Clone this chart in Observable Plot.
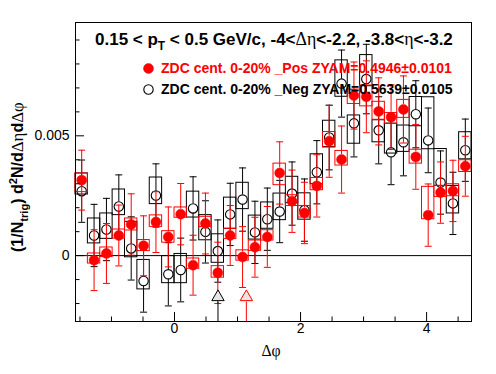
<!DOCTYPE html>
<html><head><meta charset="utf-8">
<script src="https://cdn.jsdelivr.net/npm/d3@7"></script>
<script src="https://cdn.jsdelivr.net/npm/@observablehq/plot@0.6"></script>
<style>html,body{margin:0;padding:0;background:#fff}#chart svg{display:block}</style>
</head><body><div id="chart"></div>
<script>
// ---- data ----
const nBins = 32;               // Δφ bins over [-π/2, 3π/2]
const binWidth = 2 * Math.PI / nBins;
const dphi = d3.range(nBins).map(i => -Math.PI / 2 + (i + 0.5) * binWidth);

// ZDC cent. 0-20% _Pos (red, filled)
const posValues = [0.00315,-0.00019,0.00009,0.00084,0.00130,0.00041,0.00140,0.00078,
  0.00173,-0.00040,0.00134,-0.00072,0.00084,-0.00006,0.00035,0.00078,
  0.00345,0.00227,0.00178,0.00291,0.00477,0.00401,0.00668,0.00663,
  0.00602,0.00578,0.00610,0.00412,0.00169,0.00263,0.00270,0.00373];
const posStat = [0.00125,0.00127,0.00125,0.00127,0.00128,0.00125,0.00127,0.00125,
  0.00128,0.00125,0.00127,0.00128,0.00125,0.00127,0.00125,0.00127,
  0.00130,0.00130,0.00128,0.00130,0.00150,0.00140,0.00140,0.00150,
  0.00140,0.00135,0.00140,0.00135,0.00130,0.00128,0.00128,0.00125];
const posSysLo = [0.00050,0.00014,0.00015,0.00013,0.00025,0.00022,0.00020,0.00024,
  0.00015,0.00015,0.00015,0.00020,0.00015,0.00015,0.00015,0.00015,
  0.00051,0.00020,0.00019,0.00018,0.00026,0.00025,0.00035,0.00040,
  0.00035,0.00028,0.00035,0.00028,0.00017,0.00018,0.00022,0.00024];
const posSysHi = [0.00028,0.00028,0.00025,0.00025,0.00025,0.00024,0.00028,0.00024,
  0.00028,0.00028,0.00028,0.00028,0.00028,0.00028,0.00028,0.00028,
  0.00039,0.00025,0.00029,0.00033,0.00039,0.00036,0.00025,0.00047,
  0.00040,0.00017,0.00040,0.00030,0.00118,0.00028,0.00028,0.00025];

// ZDC cent. 0-20% _Neg (black, open)
const negValues = [0.00269,0.00084,0.00109,0.00205,0.00030,-0.00106,0.00251,-0.00078,
  -0.00060,0.00197,0.00099,0.00019,0.00172,0.00234,0.00097,0.00152,
  0.00184,0.00259,0.00190,0.00348,0.00493,0.00718,0.00552,0.00737,
  0.00523,0.00431,0.00473,0.00590,0.00481,0.00305,0.00218,0.00440];
const negStat = [0.00130,0.00130,0.00130,0.00132,0.00132,0.00130,0.00132,0.00132,
  0.00133,0.00132,0.00130,0.00130,0.00130,0.00132,0.00130,0.00130,
  0.00130,0.00132,0.00130,0.00132,0.00135,0.00140,0.00140,0.00145,
  0.00140,0.00135,0.00140,0.00140,0.00135,0.00132,0.00130,0.00130];
const negSysLo = [0.00014,0.00033,0.00039,0.00036,0.00037,0.00035,0.00036,0.00037,
  0.00055,0.00038,0.00035,0.00049,0.00060,0.00040,0.00030,0.00040,
  0.00036,0.00040,0.00040,0.00050,0.00040,0.00055,0.00085,0.00030,
  0.00050,0.00005,0.00040,0.00050,0.00037,0.00014,0.00042,0.00038];
const negSysHi = [0.00074,0.00071,0.00067,0.00071,0.00111,0.00088,0.00075,0.00076,
  0.00067,0.00070,0.00070,0.00070,0.00070,0.00070,0.00070,0.00070,
  0.00075,0.00070,0.00070,0.00075,0.00070,0.00097,0.00033,0.00100,
  0.00042,0.00120,0.00070,0.00072,0.00180,0.00140,0.00073,0.00075];

// ZYAM markers (triangles)
const zyamX = [0.69, 1.14];
const zyamY = [-0.00173, -0.00173];
const zyamColor = ["black", "red"];

const xTicksMajor = [0, 2, 4];
const xTicksMinor = [-1.5, -1, -0.5, 0.5, 1, 1.5, 2.5, 3, 3.5, 4.5];
const yTicksMajor = [0, 0.005];
const yTicksMinor = [-0.002, -0.001, 0.001, 0.002, 0.003, 0.004, 0.006, 0.007, 0.008, 0.009];
const yTickLabels = {0: "0", 0.005: "0.005"};

// rich-text pieces: [text, kind]  kind: "" normal, "sub", "sup", "g" (greek, symbol-like font)
const titleParts = [["0.15 < p", ""], ["T", "sub"], [" < 0.5 GeV/c, -4<", ""], ["Δη", "g"], ["<-2.2, -3.8<", ""], ["η", "g"], ["<-3.2", ""]];
const legendLabels = ["ZDC cent. 0-20% _Pos ZYAM=0.4946±0.0101", "ZDC cent. 0-20% _Neg ZYAM=0.5639±0.0105"];
const yTitleParts = [["(1/N", ""], ["trig", "sub"], [") d", ""], ["2", "sup"], ["N/d", ""], ["Δη", "g"], ["d", ""], ["Δφ", "g"]];
const xTitleParts = [["Δφ", "g"]];

// ---- build ----
const mk = (vals, stat, lo, hi) => dphi.map((x, i) => ({x, v: vals[i], e: stat[i], lo: lo[i], hi: hi[i]}));
const pos = mk(posValues, posStat, posSysLo, posSysHi);
const neg = mk(negValues, negStat, negSysLo, negSysHi);
const zyam = zyamX.map((x, i) => ({x, y: zyamY[i], c: zyamColor[i]}));

const W = 496, H = 374;
const Y_MIN = -0.00275, Y_MAX = 0.00973;
const FONT = "Liberation Sans, Arial, Helvetica, sans-serif";
const GREEK = "Liberation Serif, DejaVu Serif, serif";
const capSymbol = {draw(ctx) { ctx.moveTo(-3.5, 0); ctx.lineTo(3.5, 0); }};
const R_DOT = 5, R_OPEN = 4.7;

function seriesMarks(d, color, open) {
  const r = open ? R_OPEN : R_DOT;
  return [
    Plot.rect(d, {x1: p => p.x - binWidth / 2, x2: p => p.x + binWidth / 2, y1: p => p.v - p.lo, y2: p => p.v + p.hi,
      fill: "none", stroke: color, strokeWidth: 1}),
    // upper half of the error bar (gap around the marker)
    Plot.ruleX(d, {x: "x", y1: p => p.v + p.e, y2: "v", insetBottom: r, stroke: color, strokeWidth: 1}),
    // lower half
    Plot.ruleX(d, {x: "x", y1: "v", y2: p => p.v - p.e, insetTop: r, stroke: color, strokeWidth: 1}),
    Plot.dot(d, {x: "x", y: p => p.v + p.e, symbol: capSymbol, fill: "none", stroke: color, strokeWidth: 1}),
    Plot.dot(d, {x: "x", y: p => p.v - p.e, symbol: capSymbol, fill: "none", stroke: color, strokeWidth: 1}),
    open
      ? Plot.dot(d, {x: "x", y: "v", r, stroke: color, fill: "none", strokeWidth: 1.1})
      : Plot.dot(d, {x: "x", y: "v", r, fill: color, stroke: color, strokeWidth: 0.5})
  ];
}

const chart = Plot.plot({
  width: W, height: H,
  marginTop: 22, marginRight: 25, marginBottom: 53, marginLeft: 75,
  style: {fontFamily: FONT, fontSize: "14px", background: "white", color: "black"},
  x: {domain: [-Math.PI / 2, 3 * Math.PI / 2], axis: null},
  y: {domain: [Y_MIN, Y_MAX], axis: null},
  marks: [
    Plot.ruleY([0], {stroke: "black", strokeWidth: 1}),
    ...seriesMarks(neg, "black", true),
    ...seriesMarks(pos, "red", false),
    // ZYAM triangles with drop lines to the bottom of the frame
    Plot.ruleX(zyam, {x: "x", y1: "y", y2: Y_MIN, insetTop: 5, stroke: "c", strokeWidth: 1}),
    Plot.dot(zyam, {x: "x", y: "y", symbol: "triangle", r: 4.6, stroke: "c", fill: "#e6e6e6", strokeWidth: 1}),
    // axes: ticks drawn inward
    Plot.axisX(xTicksMajor, {anchor: "bottom", tickSize: -9, fill: "none", stroke: "black", label: null}),
    Plot.axisX(xTicksMinor, {anchor: "bottom", tickSize: -4.5, fill: "none", stroke: "black", label: null}),
    Plot.axisX(xTicksMajor, {anchor: "bottom", tickSize: 0, tickPadding: 2, fontSize: 14, tickFormat: d => String(d), label: null}),
    Plot.axisY(yTicksMajor, {anchor: "left", tickSize: -9, fill: "none", stroke: "black", label: null}),
    Plot.axisY(yTicksMinor, {anchor: "left", tickSize: -4.5, fill: "none", stroke: "black", label: null}),
    Plot.axisY(yTicksMajor, {anchor: "left", tickSize: 0, tickPadding: 6, fontSize: 14, tickFormat: d => yTickLabels[d], label: null}),
    Plot.frame({stroke: "black", strokeWidth: 1}),
    // legend markers
    Plot.dot([0], {frameAnchor: "top-left", dx: 73, dy: 46, r: R_DOT, fill: "red", stroke: "red", strokeWidth: 0.5}),
    Plot.dot([0], {frameAnchor: "top-left", dx: 73, dy: 67, r: R_OPEN, fill: "none", stroke: "black", strokeWidth: 1.1})
  ]
});

const svg = d3.select(chart);
function richText(parent, parts, size) {
  let shift = 0;
  parts.forEach(([t, kind]) => {
    const ts = parent.append("tspan").text(t);
    const want = kind === "sub" ? size * 0.3 : kind === "sup" ? -size * 0.4 : 0;
    ts.attr("dy", want - shift);
    shift = want;
    if (kind === "sub" || kind === "sup") ts.attr("font-size", size * 0.7);
    if (kind === "g") ts.attr("font-family", GREEK).attr("font-weight", "normal").attr("font-size", size * 1.05);
  });
}
const g = svg.append("g").attr("font-family", FONT).attr("font-weight", "bold").attr("text-anchor", "start");
const title = g.append("text").attr("x", 95).attr("y", 45).attr("font-size", 17).attr("fill", "black");
richText(title, titleParts, 17);
g.append("text").attr("x", 161).attr("y", 73).attr("font-size", 14).attr("fill", "red").text(legendLabels[0]);
g.append("text").attr("x", 161).attr("y", 94).attr("font-size", 14).attr("fill", "black").text(legendLabels[1]);
const yt = g.append("text").attr("transform", "translate(23,252) rotate(-90)").attr("text-anchor", "start")
  .attr("font-size", 16).attr("fill", "black");
richText(yt, yTitleParts, 16);
const xt = g.append("text").attr("x", 271).attr("y", 356).attr("text-anchor", "middle").attr("font-size", 15).attr("fill", "black");
richText(xt, xTitleParts, 15);

document.getElementById("chart").appendChild(chart);
</script>
</body></html>
